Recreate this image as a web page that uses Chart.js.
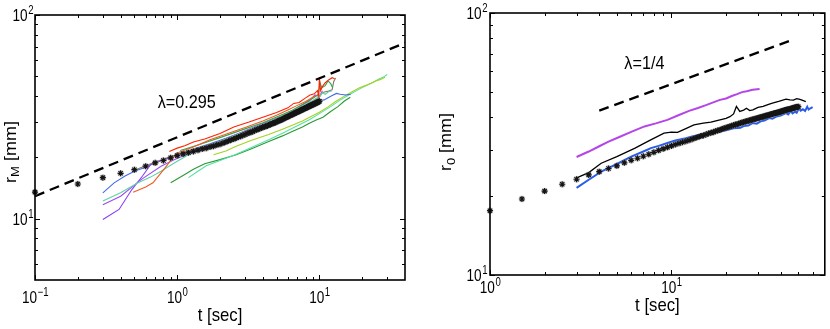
<!DOCTYPE html>
<html>
<head>
<meta charset="utf-8">
<script src="https://cdn.jsdelivr.net/npm/chart.js@4.4.0/dist/chart.umd.min.js"></script>
<style>
  body { margin: 0; background: #fff; }
  #wrap { position: relative; width: 830px; height: 329px; }
  canvas { position: absolute; top: 0; }
  #left { left: 0; }
  #right { left: 415px; }
</style>
</head>
<body>
<div id="wrap">
  <canvas id="left" width="415" height="329"></canvas>
  <canvas id="right" width="415" height="329"></canvas>
</div>
<script>
// ---- left panel: r_M vs t ----
const leftStarT = [0.1, 0.2, 0.3, 0.4, 0.5, 0.6, 0.7, 0.8, 0.9, 1.0,
  1.1, 1.2, 1.3, 1.4, 1.5, 1.6, 1.7, 1.8, 1.9, 2.0,
  2.1, 2.2, 2.3, 2.4, 2.5, 2.6, 2.7, 2.8, 2.9, 3.0,
  3.1, 3.2, 3.3, 3.4, 3.5, 3.6, 3.7, 3.8, 3.9, 4.0,
  4.1, 4.2, 4.3, 4.4, 4.5, 4.6, 4.7, 4.8, 4.9, 5.0,
  5.1, 5.2, 5.3, 5.4, 5.5, 5.6, 5.7, 5.8, 5.9, 6.0,
  6.1, 6.2, 6.3, 6.4, 6.5, 6.6, 6.7, 6.8, 6.9, 7.0,
  7.1, 7.2, 7.3, 7.4, 7.5, 7.6, 7.7, 7.8, 7.9, 8.0,
  8.1, 8.2, 8.3, 8.4, 8.5, 8.6, 8.7, 8.8, 8.9, 9.0,
  9.1, 9.2, 9.3, 9.4, 9.5, 9.6, 9.7, 9.8, 9.9, 10.0];
const leftStarR = [13.5, 14.8, 15.9, 16.7, 17.4, 18.1, 18.8, 19.3, 19.9, 20.4,
  20.8, 21.1, 21.4, 21.7, 22.0, 22.2, 22.5, 22.7, 23.0, 23.2,
  23.5, 23.8, 24.1, 24.4, 24.6, 24.9, 25.2, 25.4, 25.7, 25.9,
  26.2, 26.4, 26.6, 26.8, 27.1, 27.3, 27.5, 27.7, 27.9, 28.1,
  28.3, 28.4, 28.6, 28.8, 29.0, 29.2, 29.4, 29.5, 29.7, 29.9,
  30.1, 30.3, 30.4, 30.6, 30.8, 31.0, 31.2, 31.4, 31.6, 31.7,
  31.9, 32.1, 32.3, 32.4, 32.6, 32.8, 32.9, 33.1, 33.3, 33.4,
  33.6, 33.7, 33.9, 34.1, 34.2, 34.4, 34.5, 34.7, 34.8, 34.9,
  35.1, 35.2, 35.4, 35.5, 35.7, 35.8, 36.0, 36.1, 36.2, 36.4,
  36.5, 36.6, 36.8, 36.9, 37.0, 37.2, 37.3, 37.4, 37.6, 37.7];

const leftDashT = [0.1, 40];
const leftDashR = [12.9, 73];

const leftBlueT = [0.3, 0.36, 0.43, 0.5, 0.6, 0.7, 0.85, 1.0, 1.3, 1.7, 2.2, 3, 4, 5, 6.5, 8, 9, 10, 10.8, 11.5, 12.3, 13.2, 14, 15.3, 16.6];
const leftBlueR = [13.4, 15.0, 16.2, 17.1, 17.9, 18.8, 19.7, 20.6, 22.0, 23.3, 24.8, 26.9, 29.0, 30.8, 33.3, 35.6, 36.9, 38.0, 38.3, 39.2, 40.2, 41.2, 40.8, 40.5, 40.8];

const leftTealT = [0.3, 0.4, 0.53, 0.65, 0.77, 0.96, 1.2, 1.5, 2, 3, 4, 5, 6.5, 8, 9, 10, 10.5, 11, 11.6, 12.3];
const leftTealR = [12.2, 13.4, 15.0, 16.0, 17.1, 18.8, 20.6, 22.0, 23.9, 26.8, 29.0, 31.0, 33.8, 36.5, 38.2, 39.8, 41.5, 40.8, 42.0, 42.5];

const leftPurpleT = [0.3, 0.4, 0.56, 0.77, 0.96, 1.3, 2, 3, 4, 5.5, 7, 8.5, 9.3, 10, 10.5];
const leftPurpleR = [11.7, 12.9, 15.6, 18.1, 19.5, 21.3, 24.0, 27.0, 29.3, 32.0, 35.0, 37.8, 40.5, 39.8, 42.5];

const leftVioletT = [0.3, 0.39, 0.48, 0.57, 0.65, 0.81, 1.0, 1.2];
const leftVioletR = [9.9, 11.1, 13.9, 16.2, 18.4, 19.5, 20.5, 21.2];

const leftOrangeT = [0.49, 0.6, 0.675, 0.76, 0.84, 0.92, 1.0, 1.3, 1.7, 2.3, 3, 4, 5, 6, 7, 8, 9, 10];
const leftOrangeR = [13.5, 14.3, 15.0, 16.6, 18.1, 19.7, 21.0, 22.5, 24.4, 26.3, 28.0, 30.2, 32.2, 34.2, 36.0, 37.6, 39.5, 41.0];

const leftRedT = [0.88, 1.0, 1.13, 1.3, 1.56, 2, 2.5, 3.2, 4, 5, 6, 6.6, 7.2, 8, 8.6, 9.2, 9.7, 9.9, 10.0, 10.2, 10.5, 11, 11.6, 12.3, 12.8];
const leftRedR = [21.4, 22.2, 22.8, 23.8, 24.6, 26.2, 28.2, 29.8, 31.5, 33.2, 35.0, 36.8, 37.2, 39.2, 40.5, 41.0, 42.5, 40.0, 49.5, 42.5, 44.5, 46.5, 48.0, 49.2, 48.6];

const leftGreenT = [1.05, 1.4, 2, 3, 4, 5, 6.5, 8, 9, 9.8, 10.1, 10.4, 11, 11.5, 12, 12.4];
const leftGreenR = [21.6, 23.0, 25.0, 27.6, 29.6, 31.6, 34.2, 37.2, 39.0, 40.6, 46.5, 44.0, 45.0, 47.5, 46.0, 44.0];

const leftGrayT = [0.5, 0.7, 1.0, 1.5, 2, 3, 4, 5, 6.5, 8, 9, 10, 10.5, 11, 11.6, 12.3, 12.6, 13.0];
const leftGrayR = [17.3, 19.0, 20.7, 22.5, 24.0, 26.5, 28.6, 30.6, 33.2, 36.0, 37.8, 39.5, 41.5, 42.0, 42.3, 43.0, 47.0, 49.0];

const leftDarkGreenT = [0.9, 1.1, 1.3, 1.56, 2, 2.6, 3.3, 4.4, 5.5, 6.5, 7.6, 8.5, 9.5, 10.6, 12, 13.5, 15, 16.5];
const leftDarkGreenR = [15.0, 16.3, 17.5, 18.6, 19.5, 20.6, 22.0, 23.9, 25.5, 26.9, 28.2, 29.4, 30.5, 31.5, 33.6, 35.5, 37.8, 39.5];

const leftYellowGreenT = [1.8, 2.2, 2.6, 3.3, 4.4, 5.5, 6.5, 7.6, 8.8, 10, 11.5, 13, 15.3, 17, 19, 21, 23, 25, 27, 29];
const leftYellowGreenR = [20.6, 21.5, 22.7, 24.2, 25.9, 27.5, 28.8, 30.2, 31.8, 33.3, 35.4, 37.6, 40.3, 42.0, 43.8, 45.0, 46.2, 47.5, 48.3, 49.6];

const leftMintT = [1.2, 1.4, 1.6, 2, 2.5, 3.3, 4.4, 5.5, 7, 8.5, 10, 12, 14, 16, 18, 20, 22, 24, 26, 28, 30];
const leftMintR = [15.9, 17.1, 18.2, 19.3, 20.5, 22.3, 24.4, 26.3, 28.6, 30.6, 32.8, 35.5, 38.2, 40.4, 42.3, 44.0, 45.4, 46.8, 48.4, 49.4, 51.0];

const leftXMajor = [0.1, 1, 10];
const leftXExp = ['\u22121', '0', '1'];
const leftXMinor = [0.2, 0.3, 0.4, 0.5, 0.6, 0.7, 0.8, 0.9, 2, 3, 4, 5, 6, 7, 8, 9, 20, 30];
const leftYMajor = [10, 100];
const leftYExp = ['1', '2'];
const leftYMinor = [6, 7, 8, 9, 20, 30, 40, 50, 60, 70, 80, 90];

// ---- right panel: r_0 vs t ----
const rightStarT = [1, 1.5, 2, 2.5, 3, 3.5, 4, 4.5, 5, 5.5, 6, 6.5, 7, 7.5, 8, 8.5, 9, 9.5, 10,
  10.5, 11, 11.5, 12, 12.5, 13, 13.5, 14, 14.5, 15, 15.5, 16, 16.5, 17, 17.5, 18, 18.5, 19, 19.5, 20,
  20.5, 21, 21.5, 22, 22.5, 23, 23.5, 24, 24.5, 25, 25.5, 26, 26.5, 27, 27.5, 28, 28.5, 29, 29.5, 30,
  30.5, 31, 31.5, 32, 32.5, 33, 33.5, 34, 34.5, 35, 35.5, 36, 36.5, 37, 37.5, 38, 38.5, 39, 39.5, 40,
  40.5, 41, 41.5, 42, 42.5, 43, 43.5, 44, 44.5, 45, 45.5, 46, 46.5, 47, 47.5, 48, 48.5, 49, 49.5, 50];
const rightStarR = [17.6, 19.5, 20.9, 22.2, 23.2, 24.1, 24.8, 25.5, 26.1, 26.8, 27.4, 27.9, 28.4, 28.9, 29.4, 29.9, 30.3, 30.7, 31.1,
  31.5, 31.8, 32.1, 32.4, 32.7, 33.0, 33.3, 33.6, 33.9, 34.1, 34.4, 34.7, 34.9, 35.1, 35.4, 35.6, 35.8, 36.1, 36.3, 36.5,
  36.7, 36.9, 37.1, 37.3, 37.5, 37.6, 37.8, 38.0, 38.2, 38.3, 38.5, 38.6, 38.8, 38.9, 39.1, 39.2, 39.3, 39.5, 39.6, 39.7,
  39.9, 40.0, 40.1, 40.2, 40.4, 40.5, 40.6, 40.7, 40.8, 41.0, 41.1, 41.2, 41.3, 41.4, 41.5, 41.6, 41.7, 41.8, 41.9, 42.0,
  42.2, 42.3, 42.4, 42.5, 42.6, 42.7, 42.8, 42.8, 42.9, 43.0, 43.1, 43.2, 43.3, 43.4, 43.5, 43.6, 43.7, 43.8, 43.8, 43.9];

const rightDashT = [4, 46];
const rightDashR = [42.4, 78.8];

const rightMagentaT = [3, 3.5, 4, 4.5, 5.2, 6, 7.1, 8.2, 9.5, 11, 12.5, 14, 15.5, 17, 18.5, 20, 21.5, 23, 24.5, 26, 28, 30.6];
const rightMagentaR = [28.2, 29.6, 31.0, 32.3, 33.7, 35.2, 36.9, 37.9, 39.1, 40.8, 42.3, 43.4, 44.5, 45.6, 46.6, 47.2, 48.2, 49.0, 49.9, 50.3, 50.9, 51.3];

const rightBlackT = [3, 3.5, 4.1, 5, 6.3, 7.5, 9.1, 10, 10.8, 12, 13.3, 15, 16.5, 18.5, 20, 21, 22, 22.8, 23.8, 25, 25.9, 27, 28.1, 30, 32, 34, 36, 39, 42.8, 45, 47, 49, 50.4, 52, 55];
const rightBlackR = [23.5, 24.6, 26.7, 28.3, 30.5, 32.5, 34.8, 35.1, 35.0, 36.2, 37.4, 38.0, 38.3, 39.1, 39.6, 40.2, 41.2, 44.0, 42.1, 42.6, 43.3, 42.4, 42.7, 43.6, 44.0, 44.7, 45.3, 46.0, 46.9, 46.6, 46.5, 47.1, 46.9, 46.6, 45.9];

const rightBlueT = [3, 3.5, 4.1, 5.1, 6, 7, 7.7, 8.5, 9.5, 10.5, 12, 13, 14.4, 16, 18.5, 20, 22, 24, 25, 26.5, 28, 29.5, 31, 32.5, 34.6, 36, 38, 40, 42.8, 44, 45.5, 46.5, 48, 49, 50.4, 51.5, 53, 54.5, 56, 57, 58, 60];
const rightBlueR = [21.5, 23.1, 24.8, 26.7, 28.3, 29.6, 30.5, 31.1, 31.9, 32.6, 33.3, 33.8, 34.3, 34.7, 35.3, 35.7, 36.3, 36.5, 37.0, 37.2, 38.0, 37.8, 38.6, 38.9, 39.7, 39.5, 40.3, 40.6, 41.5, 41.0, 42.2, 41.4, 42.0, 41.6, 43.3, 42.4, 42.9, 42.3, 43.9, 42.8, 43.2, 43.7];

const rightXMajor = [1, 10];
const rightXExp = ['0', '1'];
const rightXMinor = [2, 3, 4, 5, 6, 7, 8, 9, 20, 30, 40, 50, 60];
const rightYMajor = [10, 100];
const rightYExp = ['1', '2'];
const rightYMinor = [20, 30, 40, 50, 60, 70, 80, 90];

// ---- drawing helpers ----
const FONT = '"Liberation Sans", Arial, Helvetica, sans-serif';
const TICK_SQ = 0.8;
const TITLE_SQ = 0.88;

function pts(ts, rs) {
    return ts.map((t, i) => ({x: t, y: rs[i]}));
}

function curve(ts, rs, color, width) {
    return {data: pts(ts, rs), borderColor: color, borderWidth: width, pointRadius: 0, tension: 0, fill: false, order: 3};
}

function dashed(ts, rs) {
    return {data: pts(ts, rs), borderColor: '#000', borderWidth: 2.3, borderDash: [10, 6], pointRadius: 0, tension: 0, fill: false, order: 2};
}

// grey halo under each asterisk, like the anti-aliased markers of the original
function halo(ts, rs) {
    return {
        data: pts(ts, rs), showLine: false, pointStyle: 'circle', pointRadius: 3.4,
        pointBackgroundColor: 'rgba(150,150,150,0.35)', pointBorderWidth: 0,
        clip: false, order: 1
    };
}

function stars(ts, rs) {
    return {
        data: pts(ts, rs), showLine: false, pointStyle: 'star', pointRadius: 3,
        pointBorderColor: '#151515', pointBackgroundColor: '#151515', pointBorderWidth: 1.2,
        clip: false, order: 0
    };
}

function squashText(ctx, str, x, y, size, sx) {
    ctx.save();
    ctx.font = size + 'px ' + FONT;
    ctx.translate(x, y);
    ctx.scale(sx, 1);
    ctx.textAlign = 'left';
    ctx.textBaseline = 'middle';
    ctx.fillText(str, 0, 0);
    ctx.restore();
}

function textWidth(ctx, str, size, sx) {
    ctx.font = size + 'px ' + FONT;
    return ctx.measureText(str).width * sx;
}

function powerLabel(ctx, exp, x, y, align) {
    const wb = textWidth(ctx, '10', 17, TICK_SQ);
    const ws = textWidth(ctx, exp, 12, TICK_SQ);
    const w = wb + ws;
    const x0 = align === 'right' ? x - w : x - w / 2;
    squashText(ctx, '10', x0, y, 17, TICK_SQ);
    squashText(ctx, exp, x0 + wb + 0.5, y - 5.5, 12, TICK_SQ);
}

function yTitle(ctx, main, sub, rest, cx, cy) {
    ctx.save();
    ctx.translate(cx, cy);
    ctx.rotate(-Math.PI / 2);
    ctx.scale(1, TITLE_SQ);
    ctx.textBaseline = 'middle';
    ctx.textAlign = 'left';
    ctx.font = '18px ' + FONT;
    const w1 = ctx.measureText(main).width;
    const w3 = ctx.measureText(rest).width;
    ctx.font = '13px ' + FONT;
    const w2 = ctx.measureText(sub).width;
    let x = -(w1 + w2 + w3) / 2;
    ctx.font = '18px ' + FONT;
    ctx.fillText(main, x, 0);
    x += w1;
    ctx.font = '13px ' + FONT;
    ctx.fillText(sub, x, 5);
    x += w2;
    ctx.font = '18px ' + FONT;
    ctx.fillText(rest, x, 0);
    ctx.restore();
}

// MATLAB-like box, inward ticks, labels and annotation
function frameFor(cfg) {
    return {
        id: 'frame',
        afterDraw(chart) {
            const ctx = chart.ctx, a = chart.chartArea;
            const xs = chart.scales.x, ys = chart.scales.y;
            ctx.save();
            ctx.strokeStyle = '#000';
            ctx.fillStyle = '#000';
            ctx.lineWidth = 1;
            ctx.beginPath();
            const xt = (v, len) => {
                const p = Math.round(xs.getPixelForValue(v)) + 0.5;
                ctx.moveTo(p, a.bottom); ctx.lineTo(p, a.bottom - len);
                ctx.moveTo(p, a.top); ctx.lineTo(p, a.top + len);
            };
            const yt = (v, len) => {
                const p = Math.round(ys.getPixelForValue(v)) + 0.5;
                ctx.moveTo(a.left, p); ctx.lineTo(a.left + len, p);
                ctx.moveTo(a.right, p); ctx.lineTo(a.right - len, p);
            };
            cfg.xMinor.forEach(v => xt(v, 3));
            cfg.xMajor.forEach(v => xt(v, 5));
            cfg.yMinor.forEach(v => yt(v, 3));
            cfg.yMajor.forEach(v => yt(v, 5));
            ctx.stroke();

            ctx.lineWidth = 1.6;
            ctx.strokeRect(a.left, a.top, a.right - a.left, a.bottom - a.top);

            cfg.xMajor.forEach((v, i) => powerLabel(ctx, cfg.xExp[i], xs.getPixelForValue(v), a.bottom + cfg.xLabelDy, 'center'));
            cfg.yMajor.forEach((v, i) => powerLabel(ctx, cfg.yExp[i], a.left - cfg.yLabelGap, ys.getPixelForValue(v) + cfg.yLabelDy, 'right'));

            const tw = textWidth(ctx, 't [sec]', 19, TITLE_SQ);
            squashText(ctx, 't [sec]', (a.left + a.right) / 2 - tw / 2, a.bottom + cfg.xTitleDy, 19, TITLE_SQ);
            yTitle(ctx, 'r', cfg.ySub, ' [mm]', cfg.yTitleX, cfg.yTitleY);

            squashText(ctx, cfg.note, xs.getPixelForValue(cfg.noteT), ys.getPixelForValue(cfg.noteR), 18, 0.9);
            ctx.restore();
        }
    };
}

function makeChart(id, datasets, xRange, yRange, pad, cfg) {
    return new Chart(document.getElementById(id), {
        type: 'line',
        data: {datasets: datasets},
        options: {
            responsive: false,
            animation: false,
            devicePixelRatio: 1,
            events: [],
            layout: {padding: pad},
            scales: {
                x: {type: 'logarithmic', min: xRange[0], max: xRange[1], display: false},
                y: {type: 'logarithmic', min: yRange[0], max: yRange[1], display: false}
            },
            plugins: {legend: {display: false}, tooltip: {enabled: false}}
        },
        plugins: [frameFor(cfg)]
    });
}

makeChart('left', [
    stars(leftStarT, leftStarR),
    halo(leftStarT, leftStarR),
    dashed(leftDashT, leftDashR),
    curve(leftRedT, leftRedR, '#ff2200', 1.1),
    curve(leftOrangeT, leftOrangeR, '#f05a24', 1.1),
    curve(leftGreenT, leftGreenR, '#2fa84a', 1.1),
    curve(leftTealT, leftTealR, '#5fd3a4', 1.1),
    curve(leftGrayT, leftGrayR, '#857565', 1.1),
    curve(leftPurpleT, leftPurpleR, '#9a4cf0', 1.1),
    curve(leftVioletT, leftVioletR, '#8a3cf6', 1.1),
    curve(leftBlueT, leftBlueR, '#3f6ae8', 1.1),
    curve(leftYellowGreenT, leftYellowGreenR, '#a6d21e', 1.1),
    curve(leftMintT, leftMintR, '#55e0a8', 1.1),
    curve(leftDarkGreenT, leftDarkGreenR, '#2b9a34', 1.1)
], [0.1, 40], [5, 100], {left: 35, top: 15, right: 10, bottom: 49}, {
    xMajor: leftXMajor, xExp: leftXExp, xMinor: leftXMinor,
    yMajor: leftYMajor, yExp: leftYExp, yMinor: leftYMinor,
    xLabelDy: 18, yLabelGap: 2, yLabelDy: 1.5, xTitleDy: 36,
    ySub: 'M', yTitleX: 11.5, yTitleY: 152,
    note: '\u03bb=0.295', noteT: 0.73, noteR: 37
});

makeChart('right', [
    stars(rightStarT, rightStarR),
    halo(rightStarT, rightStarR),
    dashed(rightDashT, rightDashR),
    curve(rightMagentaT, rightMagentaR, '#b545e6', 2),
    curve(rightBlackT, rightBlackR, '#000000', 1.3),
    curve(rightBlueT, rightBlueR, '#2a5cea', 2)
], [1, 70], [10, 100], {left: 75, top: 13, right: 2, bottom: 54}, {
    xMajor: rightXMajor, xExp: rightXExp, xMinor: rightXMinor,
    yMajor: rightYMajor, yExp: rightYExp, yMinor: rightYMinor,
    xLabelDy: 13, yLabelGap: 3, yLabelDy: 1, xTitleDy: 31,
    ySub: '0', yTitleX: 32, yTitleY: 142,
    note: '\u03bb=1/4', noteT: 5.5, noteR: 64
});
</script>
</body>
</html>
